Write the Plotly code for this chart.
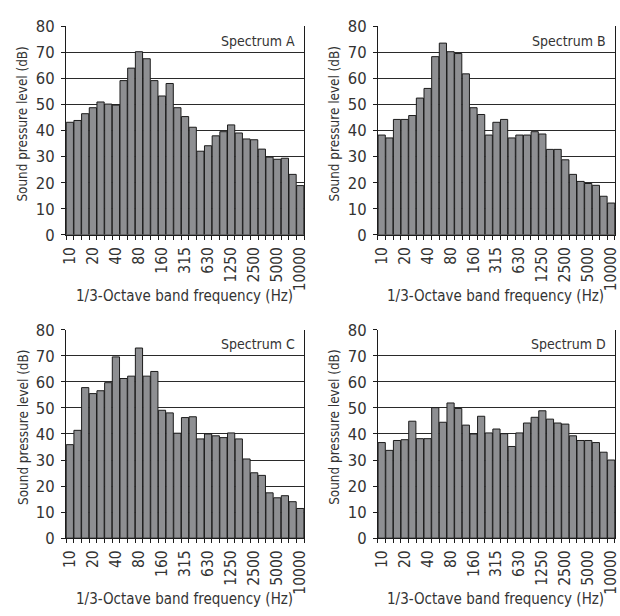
import plotly.graph_objects as go

# 1/3-octave band centre frequencies (Hz)
bands = ["10", "12.5", "16", "20", "25", "31.5", "40", "50", "63", "80", "100",
         "125", "160", "200", "250", "315", "400", "500", "630", "800", "1000",
         "1250", "1600", "2000", "2500", "3150", "4000", "5000", "6300", "8000", "10000"]
tick_labels = ["10", "20", "40", "80", "160", "315", "630", "1250", "2500", "5000", "10000"]

# Sound pressure level per band (dB)
spectrum_a = [43.2, 43.9, 46.5, 48.8, 51.0, 50.2, 49.8, 59.2, 64.0, 70.3, 67.6,
              59.2, 53.3, 58.1, 48.8, 45.4, 41.3, 32.1, 34.2, 38.0, 39.6,
              42.2, 39.1, 36.8, 36.5, 32.9, 29.8, 29.0, 29.4, 23.2, 18.9]
spectrum_b = [38.3, 37.2, 44.3, 44.3, 45.8, 52.5, 56.2, 68.4, 73.6, 70.3, 69.6,
              61.8, 48.8, 46.2, 38.3, 43.2, 44.3, 37.2, 38.3, 38.3, 39.6,
              38.7, 32.8, 32.8, 28.8, 23.2, 20.5, 19.7, 19.0, 14.8, 12.2]
spectrum_c = [35.9, 41.4, 57.8, 55.5, 56.6, 59.7, 69.6, 61.3, 62.2, 73.0, 62.2,
              64.0, 49.1, 48.1, 40.3, 46.3, 46.6, 38.1, 40.0, 39.3, 38.6,
              40.4, 38.1, 30.4, 25.1, 24.1, 17.4, 15.5, 16.3, 14.0, 11.4]
spectrum_d = [36.7, 33.7, 37.5, 37.8, 44.9, 38.2, 38.2, 50.1, 44.5, 51.9, 49.8,
              43.4, 40.0, 46.8, 40.4, 41.9, 40.1, 35.2, 40.4, 44.2, 46.4,
              48.9, 45.7, 44.2, 43.8, 39.3, 37.5, 37.5, 36.7, 33.0, 30.0]

spectra = [("Spectrum A", spectrum_a), ("Spectrum B", spectrum_b),
           ("Spectrum C", spectrum_c), ("Spectrum D", spectrum_d)]

W, H = 620, 616
FONT = "DejaVu Sans Condensed, Liberation Sans Narrow, Roboto, sans-serif"
TXT = "#333333"
BAR = "#8e8f92"
EDGE = "#1c1c1c"

# panel boxes in pixels: (left, right, top, bottom)
boxes = [(62, 304, 18, 233), (379, 620, 18, 233),
         (62, 304, 331, 546), (379, 620, 331, 546)]


def px(x, y):
    return x / W, 1 - y / H


fig = go.Figure()
xi = list(range(len(bands)))
tick_idx = [bands.index(t) for t in tick_labels]

for k, ((name, vals), (l, r, t, b)) in enumerate(zip(spectra, boxes)):
    sfx = "" if k == 0 else str(k + 1)
    fig.add_trace(go.Bar(
        x=xi, y=vals, xaxis="x" + sfx, yaxis="y" + sfx,
        marker=dict(color=BAR, line=dict(color=EDGE, width=1)),
        customdata=bands, hovertemplate="%{customdata} Hz: %{y} dB<extra></extra>",
        showlegend=False,
    ))
    fig.update_layout(**{
        "xaxis" + sfx: dict(
            domain=[l / W, r / W], anchor="y" + sfx, range=[-0.5, len(bands) - 0.5],
            tickmode="array", tickvals=tick_idx, ticktext=tick_labels,
            tickangle=-90, ticks="", showgrid=False, zeroline=False,
            showline=True, linecolor=EDGE, linewidth=1,
            ticklabeloverflow="allow", ticklabelstandoff=5,
            tickfont=dict(family=FONT, size=15.5, color=TXT),
            minor=dict(ticks="outside", tickmode="linear", tick0=-0.5, dtick=1,
                       ticklen=4, tickcolor=EDGE, showgrid=False),
        ),
        "yaxis" + sfx: dict(
            domain=[1 - b / H, 1 - t / H], anchor="x" + sfx, range=[0, 80], dtick=10,
            ticks="outside", ticklen=4, tickcolor=EDGE,
            showgrid=True, gridcolor="#2a2a2a", gridwidth=1,
            zeroline=False, showline=True, linecolor=EDGE, linewidth=1,
            mirror=True, ticklabelstandoff=3,
            tickfont=dict(family=FONT, size=16.5, color=TXT),
        ),
    })
    # spectrum name, top-right inside the panel
    ax, ay = px(r - 7, t + 15)
    fig.add_annotation(x=ax, y=ay, xref="paper", yref="paper",
                       text=name, showarrow=False, xanchor="right", yanchor="middle",
                       font=dict(family=FONT, size=14, color=TXT))
    # axis titles
    ax, ay = px((l + r) / 2 - 1, b + 63)
    fig.add_annotation(x=ax, y=ay, xref="paper", yref="paper",
                       text="1/3-Octave band frequency (Hz)",
                       showarrow=False, xanchor="center", yanchor="middle",
                       font=dict(family=FONT, size=15, color=TXT))
    ax, ay = px(l - 44, (t + b) / 2 - 7)
    fig.add_annotation(x=ax, y=ay, xref="paper", yref="paper",
                       text="Sound pressure level (dB)",
                       showarrow=False, textangle=-90, xanchor="center", yanchor="middle",
                       font=dict(family=FONT, size=13.4, color=TXT))

fig.update_layout(
    width=W, height=H, margin=dict(l=0, r=0, t=0, b=0),
    paper_bgcolor="white", plot_bgcolor="white",
    bargap=0.06,
)

fig.write_html("out.html")
